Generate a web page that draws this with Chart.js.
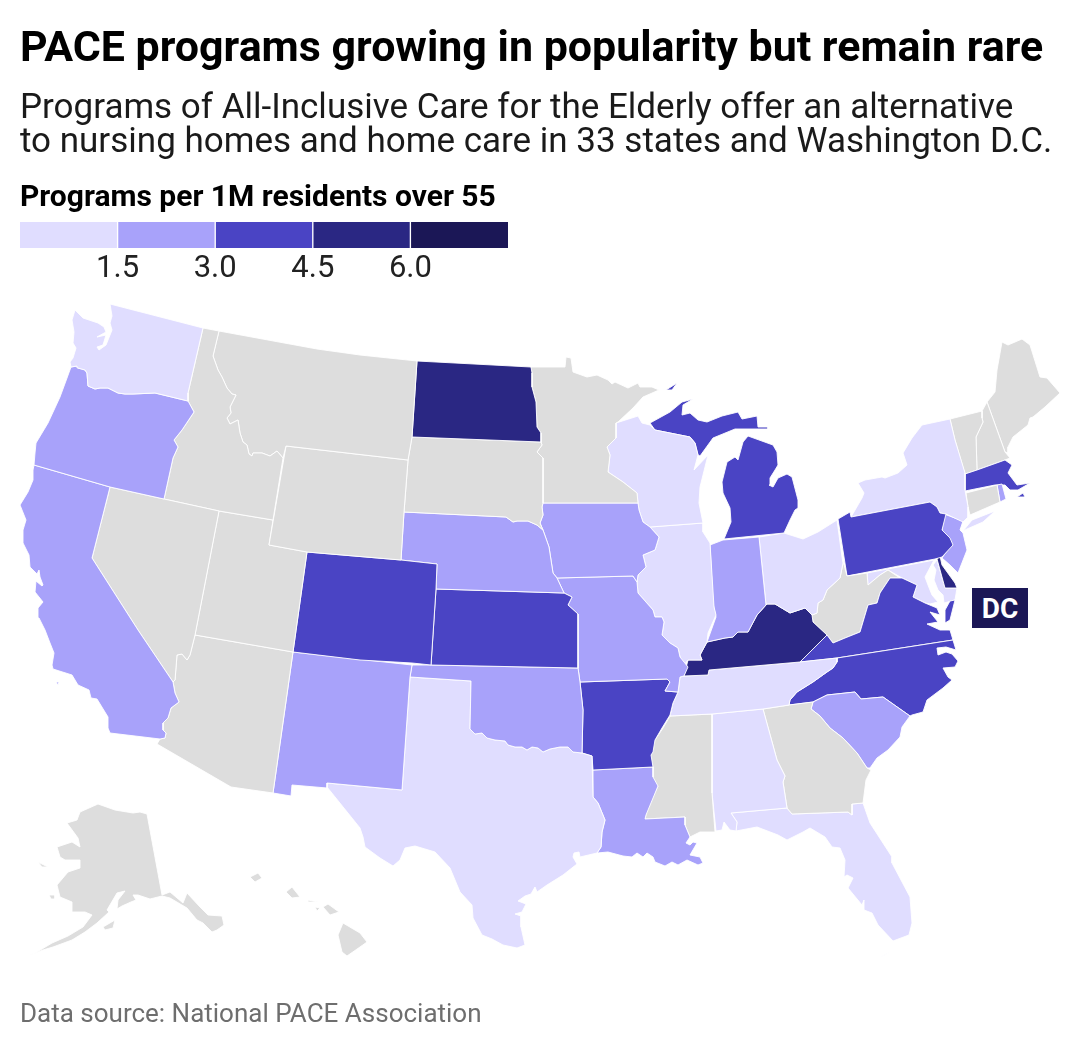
<!DOCTYPE html>
<html><head><meta charset="utf-8">
<script src="https://cdn.jsdelivr.net/npm/chart.js@4/dist/chart.umd.min.js"></script>
<style>
html,body{margin:0;padding:0;background:#fff;width:1080px;height:1050px;overflow:hidden;font-family:Roboto,sans-serif}
canvas{position:absolute;display:block}
.t{position:absolute;white-space:nowrap}
#title{left:20px;top:21px;font-size:42.95px;font-weight:700;line-height:50px;color:#000}
#sub{left:20px;top:90px;font-size:35px;line-height:34px;color:#1a1a1a}
#lt{left:20px;top:179px;font-size:30px;font-weight:700;line-height:34px;color:#000}
#src{left:20px;top:997px;font-size:26px;line-height:32px;color:#6e6e6e}
#dc{left:972px;top:588px;width:56px;height:40px;background:#1b1756;color:#fff;font-size:28px;font-weight:700;line-height:41px;text-align:center}
</style></head><body>
<canvas id="map" width="1080" height="1050" style="left:0;top:0"></canvas>
<canvas id="legend" width="488" height="64" style="left:20px;top:222px"></canvas>
<div class="t" id="title">PACE programs growing in popularity but remain rare</div>
<div class="t" id="sub">Programs of All-Inclusive Care for the Elderly offer an alternative<br>to nursing homes and home care in 33 states and Washington D.C.</div>
<div class="t" id="lt">Programs per 1M residents over 55</div>
<div class="t" id="dc">DC</div>
<div class="t" id="src">Data source: National PACE Association</div>
<script>
// Legend
const binWidths=[1.5,1.5,1.5,1.5,1.5];
const binColors=['#e0ddff','#a8a2fa','#4a44c4','#2a2783','#1b1756'];
const binEdges=[1.5,3.0,4.5,6.0];
const noDataColor='#dddddd';
// States and estimated rates (null = no programs)
const stateCodes=['WA','OR','CA','NV','ID','MT','WY','UT','AZ','CO','NM','ND','SD','NE','KS','OK','TX','MN','IA','MO','AR','LA','WI','IL','IN','MI','OH','KY','TN','MS','AL','GA','FL','SC','NC','VA','WV','PA','NY','NJ','DE','MD','DC','CT','RI','MA','VT','NH','ME','AK','HI'];
const stateRates=[1.0,2.2,2.4,null,null,null,null,null,null,3.8,2.6,5.4,null,2.3,3.6,2.0,0.7,null,2.1,1.9,3.5,2.5,1.1,0.9,2.0,3.4,0.8,4.9,0.6,null,0.5,null,0.6,2.4,3.9,3.3,null,3.7,1.2,2.8,5.2,0.9,7.0,null,2.7,3.2,null,null,null,null,null];
// Outlines in map units; each inner list is one closed ring of x,y pairs
const WA=[[75,310,83,318,92,321,98,323,104,327,106,332,97,337,106,335,103,345,97,347,99,350,106,345,108,340,112,330,110,323,112,316,110,304,203,328,188,393,188,401,155,393,133,394,125,394,118,393,108,388,100,388,95,389,88,386,87,373,85,370,78,368,77,366,71,367,70,362,73,358,76,348,73,343,74,332,72,320]];
const OR=[[71,367,77,366,78,368,85,370,87,373,88,386,95,389,100,388,108,388,118,393,125,394,133,394,155,393,188,401,194,412,182,430,174,440,178,447,173,458,164,499,110,487,34,465,35,453,36,443,48,423,60,397,67,378]];
const CA=[[34,465,110,487,92,558,138,630,173,682,175,693,179,702,171,708,168,718,163,723,163,730,166,733,165,738,160,739,110,733,108,728,108,717,97,699,91,698,89,690,78,685,72,675,53,669,52,665,54,653,50,643,45,630,39,618,38,608,43,602,35,592,36,581,42,586,43,585,40,577,39,570,37,574,30,567,29,555,23,543,23,530,26,520,20,505,28,492,33,480,33,470],[56,682,59,682,58,685]];
const NV=[[110,487,164,499,219,511,195,635,190,655,187,660,182,654,177,655,175,680,173,682,138,630,92,558]];
const ID=[[203,328,219,331,213,356,218,370,222,377,227,388,232,394,236,395,230,407,231,413,227,418,230,424,238,420,240,433,243,442,247,445,249,454,252,456,253,453,262,453,270,456,277,451,283,458,273,520,219,511,164,499,173,458,178,447,174,440,182,430,194,412,188,401,188,393]];
const MT=[[219,331,317,349,360,355,417,361,412,437,408,460,286,446,283,458,277,451,270,456,262,453,253,453,252,456,249,454,247,445,243,442,240,433,238,420,230,424,227,418,231,413,230,407,236,395,232,394,227,388,222,377,218,370,213,356]];
const WY=[[286,446,408,460,404,512,401,560,307,552,269,545]];
const UT=[[219,511,273,520,269,545,307,552,293,652,195,635]];
const AZ=[[195,635,293,652,273,793,231,787,157,744,160,739,165,738,166,733,163,730,163,723,168,718,171,708,179,702,175,693,173,682,175,680,177,655,182,654,187,660,190,655]];
const CO=[[307,552,401,560,437,564,436,589,431,665,412,663,360,660,293,652]];
const NM=[[293,652,412,665,410,677,402,790,327,783,327,788,292,785,291,796,273,793]];
const ND=[[417,361,531,367,532,373,532,387,536,402,537,427,541,433,541,442,412,437]];
const SD=[[412,437,541,442,542,445,537,452,543,458,543,503,542,507,543,515,540,523,543,530,537,525,528,521,517,521,513,522,506,517,404,512,408,460]];
const NE=[[404,512,506,517,513,522,517,521,528,521,537,525,543,530,549,547,553,573,557,578,564,593,436,589,437,564,401,560]];
const KS=[[436,589,564,593,572,597,568,605,578,614,578,668,431,665]];
const OK=[[412,665,431,665,578,668,580,682,583,710,582,753,573,752,568,747,560,747,550,749,543,752,538,748,532,747,527,750,522,747,515,747,508,745,505,741,495,740,487,738,482,733,475,734,470,729,471,681,410,677]];
const TX=[[410,677,471,681,470,729,475,734,482,733,487,738,495,740,505,741,508,745,515,747,522,747,527,750,532,747,538,748,543,752,550,749,560,747,568,747,573,752,582,753,592,756,593,797,598,803,605,820,602,832,601,847,597,853,580,857,579,852,574,853,573,857,577,864,563,875,547,885,537,892,535,887,531,894,525,896,518,901,526,904,522,912,515,914,521,916,521,927,525,945,517,948,503,945,492,939,482,935,473,918,472,905,460,892,450,868,435,852,415,846,405,848,400,860,393,866,380,858,365,847,363,837,360,828,327,787,327,783,402,790],[528,903,523,913,523,930,526,941,523,930,523,913]];
const MN=[[531,367,565,367,566,357,571,358,573,372,587,377,597,375,608,380,612,384,615,382,628,388,638,383,640,387,652,387,659,390,643,397,633,408,618,422,616,423,616,438,607,447,610,455,608,472,623,482,637,493,638,503,543,503,543,458,537,452,542,445,541,442,541,433,537,427,536,402,532,387,532,373]];
const IA=[[543,503,638,503,639,510,643,522,650,527,659,537,655,550,643,555,646,567,638,575,637,582,633,576,557,578,553,573,549,547,543,530,540,523,543,515,542,507]];
const MO=[[557,578,633,576,637,582,638,593,653,610,655,617,662,617,664,622,662,635,670,643,678,648,680,657,688,667,684,676,680,677,678,692,665,691,670,682,667,679,580,682,578,668,578,614,568,605,572,597,564,593]];
const AR=[[580,682,667,679,670,682,665,691,678,692,673,703,670,715,662,728,655,740,653,752,651,755,653,767,593,770,592,756,582,753,583,710]];
const LA=[[593,770,653,767,653,777,658,786,646,815,645,819,685,817,685,825,690,837,686,843,690,845,693,842,697,843,690,855,700,857,703,863,698,865,687,860,678,865,672,862,665,866,655,862,653,857,647,853,643,857,637,853,632,857,623,856,608,852,597,853,601,847,602,832,605,820,598,803,593,797]];
const WI=[[616,423,638,416,642,423,650,425,655,430,690,437,695,443,698,455,694,470,708,455,700,487,699,503,703,523,650,527,643,522,639,510,638,503,637,493,623,482,608,472,610,455,607,447,616,438]];
const IL=[[650,527,703,523,703,532,710,543,714,607,716,615,708,633,707,642,700,655,702,660,688,660,684,665,680,657,678,648,670,643,662,635,664,622,662,617,655,617,653,610,638,593,637,582,638,575,646,567,643,555,655,550,659,537]];
const IN=[[710,545,723,540,759,537,766,605,757,615,748,632,738,632,733,637,725,638,707,642,716,617,713,603]];
const MI=[[724,539,784,533,790,520,795,510,798,508,798,500,792,477,787,474,778,478,773,487,769,485,770,478,775,470,778,465,777,452,773,445,748,436,743,442,738,460,735,457,727,462,722,482,723,493,730,508,731,522],[650,423,670,412,682,402,693,399,683,405,682,415,690,413,698,420,707,422,722,416,738,412,742,419,757,416,758,427,768,427,768,429,748,429,735,429,713,438,700,456,698,455,695,443,690,437,655,430],[666,390,677,383,672,390]];
const OH=[[759,537,784,533,803,539,818,532,837,520,842,557,843,563,840,578,827,590,823,600,818,603,817,613,812,615,805,608,790,613,775,604,767,604,766,605]];
const KY=[[684,676,688,660,702,660,700,655,707,642,725,638,733,637,738,632,748,632,757,615,766,605,767,604,775,604,790,613,805,608,812,615,813,622,827,635,812,650,800,662,709,670,708,675]];
const TN=[[680,677,684,676,708,675,709,670,800,662,837,658,837,662,833,668,827,672,813,682,797,692,790,700,789,705,763,709,712,714,670,716,673,703,678,692]];
const MS=[[670,716,712,714,712,793,715,832,700,832,690,837,685,825,685,817,645,819,647,810,658,786,653,782,653,768,650,753,653,743,663,728]];
const AL=[[712,714,763,709,777,760,785,776,783,782,787,808,731,813,737,822,736,831,730,830,724,822,722,830,716,831,712,793]];
const GA=[[763,709,789,705,813,702,811,709,820,716,830,728,843,738,857,753,867,768,871,770,866,780,863,803,852,804,852,815,848,812,792,814,787,808,783,782,785,776,777,760]];
const FL=[[731,813,787,808,792,814,848,812,852,815,852,804,863,803,870,823,892,857,892,863,910,897,912,923,909,935,893,941,878,925,872,913,864,910,864,900,862,905,848,888,853,878,847,875,844,877,845,860,840,848,832,847,825,837,810,828,803,832,787,840,778,835,757,827,736,831,737,822],[880,957,890,952,885,955]];
const SC=[[811,709,813,702,827,695,855,692,861,699,883,697,910,716,902,727,900,737,888,750,877,758,870,768,867,768,857,753,843,738,830,728,820,716]];
const NC=[[837,658,953,640,956,650,946,647,937,648,938,655,946,652,952,654,958,661,955,667,943,668,948,677,952,680,943,688,927,700,923,712,912,715,910,716,883,697,861,699,855,692,827,695,813,702,789,705,790,700,797,692,813,682,827,672,833,668,837,662]];
const VA=[[800,662,812,650,827,635,833,643,845,638,860,632,868,605,877,603,880,593,890,578,902,578,917,585,913,597,925,603,937,608,940,615,930,612,938,622,927,624,940,630,950,630,953,640,837,658],[950,601,955,600,950,620,945,623,945,610]];
const WV=[[842,557,847,576,867,573,868,585,880,575,888,570,900,578,890,578,880,593,877,603,868,605,860,632,845,638,833,643,827,635,813,622,812,615,817,613,818,603,823,600,827,590,840,578,843,563]];
const PA=[[838,519,850,512,851,517,930,502,937,507,940,513,946,514,942,530,950,538,953,545,942,557,935,559,847,576]];
const NY=[[851,517,862,498,864,493,858,483,865,480,882,477,885,478,898,473,907,465,903,453,912,438,922,425,950,419,955,440,965,473,965,490,968,507,968,517,963,522,946,514,940,513,937,507,930,502],[963,531,972,520,995,511,983,522,967,529]];
const NJ=[[944,514,963,521,960,530,963,533,967,550,958,573,950,565,942,558,952,544,942,532]];
const DE=[[937,559,940,556,942,565,955,583,957,588,945,588]];
const MD=[[847,576,867,573,934,560,925,577,928,585,932,595,938,602,930,604,925,603,913,597,917,585,902,578,888,570,880,575,868,585,867,573],[937,560,945,588,957,588,955,600,944,603,943,595,938,590,934,580,936,570,933,565]];
const DC=[[915,583,918,583,918,586,915,586]];
const CT=[[966,493,997,485,1000,502,970,515,968,507]];
const RI=[[997,485,1002,484,1006,499,1000,502]];
const MA=[[965,474,977,470,1005,460,1012,465,1008,473,1017,485,1030,483,1018,490,1010,490,1005,485,995,485,965,491],[1017,497,1023,493,1025,497]];
const VT=[[950,419,982,411,982,418,983,422,976,437,977,470,965,474,955,440]];
const NH=[[982,411,987,402,1005,452,1010,458,1005,460,977,470,976,437,983,422,982,418]];
const ME=[[987,402,995,392,997,370,1002,342,1008,345,1022,339,1030,345,1040,377,1047,378,1060,393,1045,407,1033,417,1030,418,1028,425,1013,437,1008,447,1008,453,1005,452]];
const AK=[[147,814,162,895,170,892,183,903,187,893,200,907,208,915,222,916,224,925,217,930,212,932,203,923,197,920,187,908,170,898,162,896,150,899,138,895,133,895,136,900,131,902,122,906,117,909,118,900,125,891,117,893,107,910,109,912,97,923,85,932,72,940,53,947,43,950,28,956,37,952,52,943,68,936,83,927,92,915,85,912,72,912,72,902,60,897,57,885,68,872,80,868,80,860,65,860,60,857,57,847,72,842,80,847,78,838,67,823,77,820,80,812,98,804,115,810,133,813,140,812],[38,862,48,867,42,867],[49,895,55,895,55,899,51,899],[103,927,115,920,113,928,105,930],[190,903,197,908,204,920,199,917],[205,917,215,919,218,927,212,927]];
const HI=[[250,877,258,873,262,878,255,882],[286,892,292,887,300,897,292,898],[308,900,318,902,308,902],[315,907,320,908,317,911],[323,907,328,904,339,912,330,915],[343,923,360,933,367,942,360,947,347,956,342,952,338,935]];
const stateOutlines=[WA,OR,CA,NV,ID,MT,WY,UT,AZ,CO,NM,ND,SD,NE,KS,OK,TX,MN,IA,MO,AR,LA,WI,IL,IN,MI,OH,KY,TN,MS,AL,GA,FL,SC,NC,VA,WV,PA,NY,NJ,DE,MD,DC,CT,RI,MA,VT,NH,ME,AK,HI];
// Inland water cut out of the states
const waterOutlines=[[100,313,105,311,108,314,103,316]];

function colourFor(v){
  if(v===null) return noDataColor;
  for(let i=0;i<binEdges.length;i++) if(v<binEdges[i]) return binColors[i];
  return binColors[binColors.length-1];
}
function ringPoints(ring){
  const pts=[];
  for(let k=0;k<ring.length;k+=2) pts.push({x:ring[k],y:ring[k+1]});
  pts.push({x:ring[0],y:ring[1]});
  return pts;
}
const mapDatasets=[];
waterOutlines.forEach(ring=>mapDatasets.push({label:'water',data:ringPoints(ring),showLine:true,fill:'shape',tension:0,pointRadius:0,backgroundColor:'#ffffff',borderColor:'#ffffff',borderWidth:0.9}));
stateCodes.forEach((code,i)=>{
  const c=colourFor(stateRates[i]);
  stateOutlines[i].forEach(ring=>{
    mapDatasets.push({label:code,data:ringPoints(ring),showLine:true,fill:'shape',tension:0,pointRadius:0,pointHoverRadius:0,
      backgroundColor:c,borderColor:'#ffffff',borderWidth:0.9,borderJoinStyle:'round'});
  });
});
Chart.defaults.font.family='Roboto, sans-serif';
new Chart(document.getElementById('map'),{
  type:'scatter',
  data:{datasets:mapDatasets},
  options:{responsive:false,animation:false,devicePixelRatio:1,layout:{padding:0},
    events:[],
    plugins:{legend:{display:false},tooltip:{enabled:false}},
    scales:{
      x:{type:'linear',min:0,max:1080,display:false},
      y:{type:'linear',min:0,max:1050,reverse:true,display:false}
    }}
});
new Chart(document.getElementById('legend'),{
  type:'bar',
  data:{labels:['Programs per 1M residents over 55'],
    datasets:binWidths.map((w,i)=>({label:'bin '+(i+1),data:[w],backgroundColor:binColors[i],
      borderColor:'#ffffff',borderWidth:{left:i?1:0,right:i<4?1:0,top:0,bottom:0},borderSkipped:false,
      barPercentage:1,categoryPercentage:1}))},
  options:{indexAxis:'y',responsive:false,animation:false,devicePixelRatio:1,layout:{padding:0},events:[],
    plugins:{legend:{display:false},tooltip:{enabled:false}},
    scales:{
      x:{stacked:true,type:'linear',min:0,max:7.5,
        grid:{display:false,drawTicks:false},border:{display:false},
        afterFit:s=>{s.height=38;s.paddingLeft=0;s.paddingRight=0},
        ticks:{stepSize:1.5,autoSkip:false,maxRotation:0,padding:3,color:'#222222',font:{size:31},
          callback:v=>binEdges.includes(v)?v.toFixed(1):''}},
      y:{stacked:true,display:false}
    }}
});
</script>
</body></html>
